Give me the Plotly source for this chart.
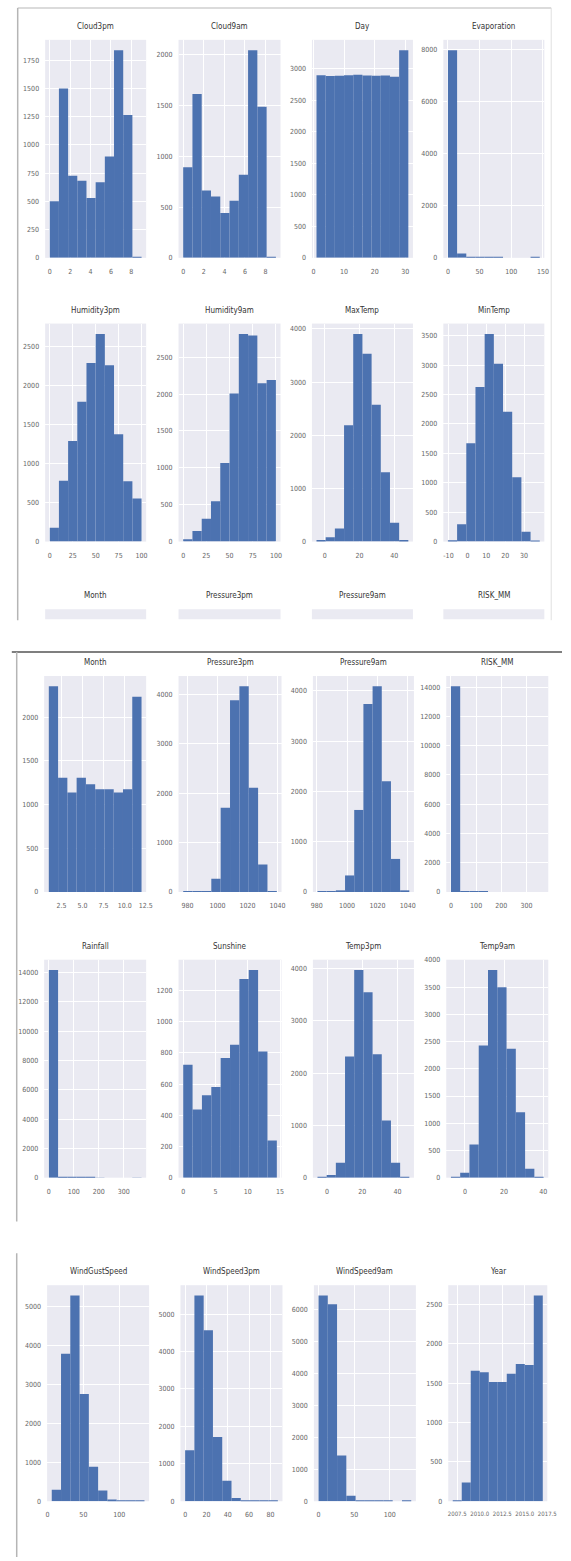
import numpy as np
import plotly.graph_objects as go

W, H = 571, 1561
BAR = "#4C72B0"
BG = "#EAEAF2"
FONT = "Liberation Sans Narrow, DejaVu Sans Condensed, Arial Narrow, sans-serif"

# ---- histogram counts, 10 equal-width bins per column ----
cloud3pm = [500, 1500, 726, 682, 529, 670, 897, 1838, 1265, 1]
cloud9am = [893, 1612, 664, 605, 441, 562, 817, 2044, 1488, 1]
day = [2893, 2880, 2885, 2895, 2900, 2890, 2885, 2888, 2870, 3290]
evaporation = [7990, 170, 20, 5, 2, 1, 0, 0, 0, 1]
humidity3pm = [178, 780, 1289, 1789, 2285, 2658, 2256, 1374, 772, 551]
humidity9am = [31, 144, 310, 548, 1064, 2007, 2815, 2793, 2146, 2190]
maxtemp = [31, 80, 248, 2188, 3906, 3534, 2573, 1302, 353, 31]
mintemp = [23, 293, 1672, 2629, 3530, 3023, 2207, 1092, 169, 2]
month = [2355, 1308, 1138, 1308, 1233, 1176, 1176, 1138, 1176, 2236]
pressure3pm = [1, 5, 20, 268, 1706, 3880, 4161, 2107, 555, 15]
pressure9am = [2, 8, 33, 329, 1632, 3738, 4093, 2204, 658, 33]
risk_mm = [14058, 45, 8, 3, 1, 1, 0, 0, 0, 1]
rainfall = [14174, 45, 10, 3, 2, 1, 0, 0, 0, 1]
sunshine = [724, 437, 528, 581, 767, 852, 1274, 1331, 809, 239]
temp3pm = [13, 51, 286, 2318, 3969, 3543, 2362, 1092, 286, 13]
temp9am = [12, 92, 610, 2428, 3812, 3495, 2367, 1202, 165, 3]
windgust = [294, 3780, 5275, 2747, 882, 277, 42, 17, 3, 1]
windspeed3pm = [1366, 5498, 4567, 1714, 548, 87, 26, 5, 1, 1]
windspeed9am = [6426, 6151, 1428, 173, 31, 5, 2, 1, 0, 1]
year = [12, 237, 1660, 1639, 1515, 1515, 1619, 1743, 1731, 2615]

# ---- value range (min, max) of each column ----
rng_cloud = (0, 9)
rng_day = (1, 31)
rng_evaporation = (0, 145)
rng_humidity = (0, 100)
rng_maxtemp = (-4.8, 48.1)
rng_mintemp = (-10.3, 38.3)
rng_month = (1, 12)
rng_pressure3pm = (977.1, 1039.6)
rng_pressure9am = (980.5, 1041.0)
rng_risk = (0, 367.6)
rng_rainfall = (0, 371.0)
rng_sunshine = (0, 14.5)
rng_temp3pm = (-5.4, 46.7)
rng_temp9am = (-7.2, 40.2)
rng_windgust = (6, 135)
rng_windspeed3pm = (0, 87)
rng_windspeed9am = (0, 130)
rng_year = (2007, 2017)

# ---- tick labels ----
xt_cloud = [0, 2, 4, 6, 8]
xt_day = [0, 10, 20, 30]
xt_evap = [0, 50, 100, 150]
xt_humidity = [0, 25, 50, 75, 100]
xt_temp = [0, 20, 40]
xt_mintemp = [-10, 0, 10, 20, 30]
xt_month = [2.5, 5.0, 7.5, 10.0, 12.5]
xt_pressure = [980, 1000, 1020, 1040]
xt_rain = [0, 100, 200, 300]
xt_sunshine = [0, 5, 10, 15]
xt_wind = [0, 50, 100]
xt_ws3 = [0, 20, 40, 60, 80]
xt_year = [2007.5, 2010.0, 2012.5, 2015.0, 2017.5]

panels = [
    # name, counts, range, xticks, xtick text format, ystep
    ("Cloud3pm", cloud3pm, rng_cloud, xt_cloud, "{:g}", 250),
    ("Cloud9am", cloud9am, rng_cloud, xt_cloud, "{:g}", 500),
    ("Day", day, rng_day, xt_day, "{:g}", 500),
    ("Evaporation", evaporation, rng_evaporation, xt_evap, "{:g}", 2000),
    ("Humidity3pm", humidity3pm, rng_humidity, xt_humidity, "{:g}", 500),
    ("Humidity9am", humidity9am, rng_humidity, xt_humidity, "{:g}", 500),
    ("MaxTemp", maxtemp, rng_maxtemp, xt_temp, "{:g}", 1000),
    ("MinTemp", mintemp, rng_mintemp, xt_mintemp, "{:g}", 500),
    ("Month", month, rng_month, xt_month, "{:.1f}", 500),
    ("Pressure3pm", pressure3pm, rng_pressure3pm, xt_pressure, "{:g}", 1000),
    ("Pressure9am", pressure9am, rng_pressure9am, xt_pressure, "{:g}", 1000),
    ("RISK_MM", risk_mm, rng_risk, xt_rain, "{:g}", 2000),
    ("Rainfall", rainfall, rng_rainfall, xt_rain, "{:g}", 2000),
    ("Sunshine", sunshine, rng_sunshine, xt_sunshine, "{:g}", 200),
    ("Temp3pm", temp3pm, rng_temp3pm, xt_temp, "{:g}", 1000),
    ("Temp9am", temp9am, rng_temp9am, xt_temp, "{:g}", 500),
    ("WindGustSpeed", windgust, rng_windgust, xt_wind, "{:g}", 1000),
    ("WindSpeed3pm", windspeed3pm, rng_windspeed3pm, xt_ws3, "{:g}", 1000),
    ("WindSpeed9am", windspeed9am, rng_windspeed9am, xt_wind, "{:g}", 1000),
    ("Year", year, rng_year, xt_year, "{:.1f}", 500),
]

# pixel boxes of the plotting areas (x0, x1, y0, y1), three stacked sheets
s1_cols = [(44, 147), (180, 284), (316, 419), (450, 553)]
s2_cols = [(43, 147), (180, 285), (317, 420), (453, 557)]
s3_cols = [(46, 150), (182, 286), (318, 422), (455, 556)]
boxes = []
for (y0, y1) in [(37, 256), (322, 541)]:
    boxes += [(a, b, y0, y1) for a, b in s1_cols]
for (y0, y1) in [(676, 893), (961, 1180)]:
    boxes += [(a, b, y0, y1) for a, b in s2_cols]
boxes += [(a, b, 1288, 1505) for a, b in s3_cols]

fig = go.Figure()
layout = {}
annotations = []
tick_font = dict(family=FONT, size=7, color="#666666")
title_font = dict(family=FONT, size=8, color="#333333")

for i, ((name, counts, (lo, hi), xt, fmt, ystep), (x0, x1, y0, y1)) in enumerate(zip(panels, boxes), start=1):
    edges = np.linspace(lo, hi, len(counts) + 1)
    centers = (edges[:-1] + edges[1:]) / 2
    width = edges[1] - edges[0]
    sfx = "" if i == 1 else str(i)
    fig.add_trace(go.Bar(
        x=centers, y=counts, width=width,
        marker=dict(color=BAR, line=dict(width=0)),
        xaxis="x" + sfx, yaxis="y" + sfx, showlegend=False, hoverinfo="x+y",
    ))
    span = hi - lo
    ymax = max(counts) * 1.05
    xfont = dict(tick_font, size=6) if name == "Year" else tick_font
    layout["xaxis" + sfx] = dict(
        domain=[x0 / W, x1 / W], anchor="y" + sfx,
        range=[lo - 0.05 * span, hi + 0.05 * span],
        tickvals=xt, ticktext=[fmt.format(v) for v in xt], tickangle=0,
        showgrid=True, gridcolor="white", gridwidth=1, zeroline=False,
        showline=False, ticks="", tickfont=xfont, ticklabelstandoff=8,
    )
    layout["yaxis" + sfx] = dict(
        domain=[1 - y1 / H, 1 - y0 / H], anchor="x" + sfx,
        range=[0, ymax], tick0=0, dtick=ystep, tickformat="d",
        showgrid=True, gridcolor="white", gridwidth=1, zeroline=False,
        showline=False, ticks="", tickfont=tick_font, ticklabelstandoff=5,
    )
    annotations.append(dict(
        text=name, x=(x0 + x1) / 2 / W, y=1 - (y0 - 7) / H,
        xref="paper", yref="paper", xanchor="center", yanchor="bottom",
        showarrow=False, font=title_font,
    ))

shapes = []
# top strip of the next row, visible at the bottom of the first sheet
strip_titles = ["Month", "Pressure3pm", "Pressure9am", "RISK_MM"]
for (a, b), t in zip(s1_cols, strip_titles):
    shapes.append(dict(type="rect", xref="paper", yref="paper",
                       x0=a / W, x1=b / W, y0=1 - 619 / H, y1=1 - 609 / H,
                       fillcolor=BG, line=dict(width=0), layer="below"))
    annotations.append(dict(
        text=t, x=(a + b) / 2 / W, y=1 - 602 / H,
        xref="paper", yref="paper", xanchor="center", yanchor="bottom",
        showarrow=False, font=title_font,
    ))


def pline(xa, ya, xb, yb, color, w):
    shapes.append(dict(type="line", xref="paper", yref="paper",
                       x0=xa / W, y0=1 - ya / H, x1=xb / W, y1=1 - yb / H,
                       line=dict(color=color, width=w)))


# sheet borders
pline(16, 5, 560, 5, "#cfcfcf", 1.5)
pline(16, 5, 16, 620, "#b5b5b5", 1.5)
pline(560, 5, 560, 620, "#e0e0e0", 1)
pline(10, 652, 571, 652, "#555555", 1.5)
pline(15, 652, 15, 1224, "#b5b5b5", 1.5)
pline(15, 1256, 15, 1561, "#b5b5b5", 1.5)

layout.update(dict(
    width=W, height=H, margin=dict(l=0, r=0, t=0, b=0),
    paper_bgcolor="white", plot_bgcolor=BG,
    annotations=annotations, shapes=shapes, barmode="overlay",
))
fig.update_layout(**layout)
fig.write_html("out.html")
